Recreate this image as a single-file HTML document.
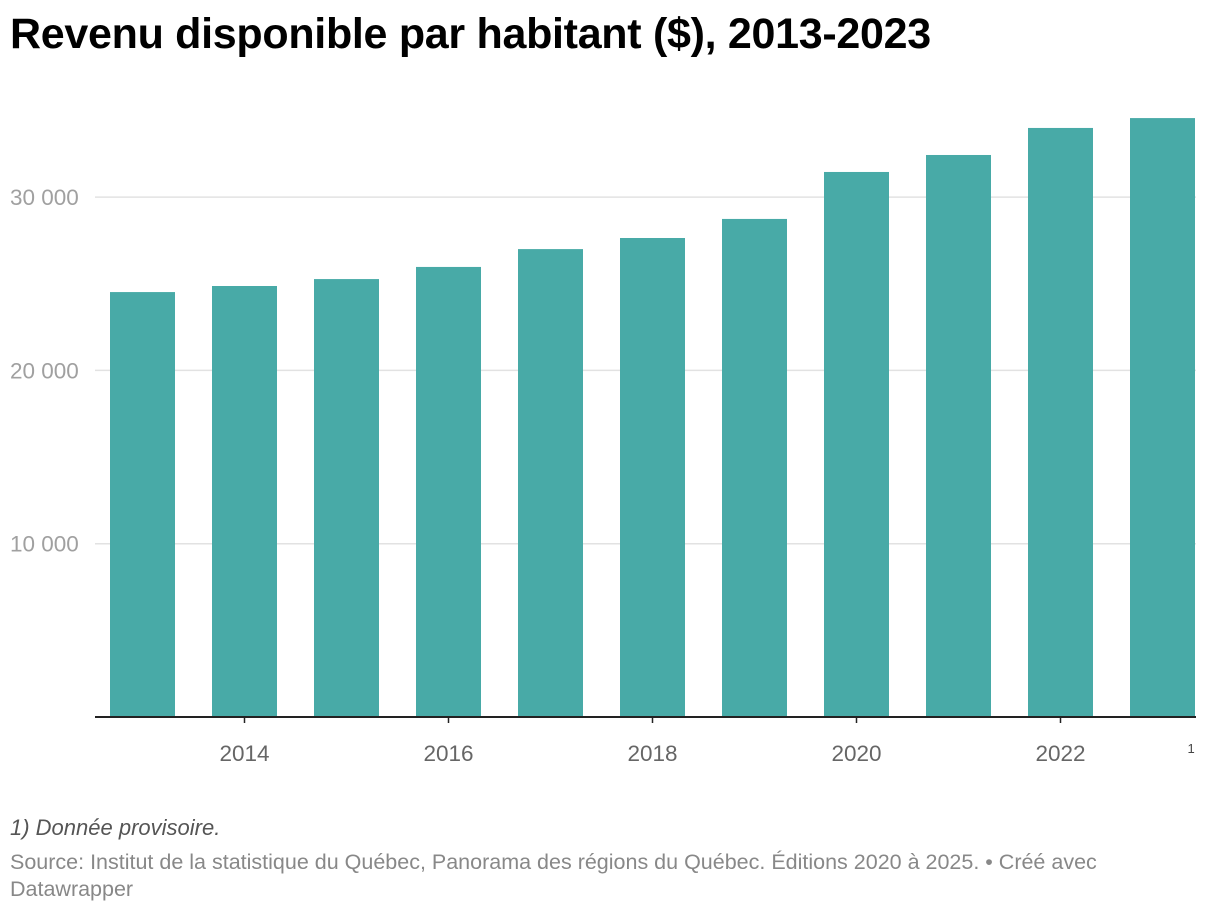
<!DOCTYPE html>
<html><head><meta charset="utf-8">
<style>
body{margin:0;background:#fff;width:1220px;height:914px;overflow:hidden;font-family:"Liberation Sans",sans-serif}
#title{position:absolute;left:10px;top:10px;font-size:43px;font-weight:bold;color:#000;letter-spacing:-0.3px}
#note{position:absolute;left:10px;top:815px;font-size:22px;font-style:italic;color:#555}
#source{position:absolute;left:10px;top:849px;font-size:21.5px;color:#888;line-height:27px;width:1125px}
svg{position:absolute;left:0;top:0}
</style></head><body>
<div id="title">Revenu disponible par habitant ($), 2013-2023</div>
<svg id="chart" width="1220" height="914"></svg>
<div id="note">1) Donnée provisoire.</div>
<div id="source">Source: Institut de la statistique du Québec, Panorama des régions du Québec. Éditions 2020 à 2025. • Créé avec Datawrapper</div>
<script>
const years=[2013,2014,2015,2016,2017,2018,2019,2020,2021,2022,2023];
const values=[24520,24870,25270,25970,27000,27640,28740,31450,32430,33990,34560];
const yTicks=[10000,20000,30000];
const yTickLabels=["10 000","20 000","30 000"];
const xTickYears=[2014,2016,2018,2020,2022];
const svg=document.getElementById('chart');
const NS='http://www.w3.org/2000/svg';
const x0=91.5,band=102,barW=65,yBase=717,pxPer=173.3/10000;
function xC(i){return x0+band*(i+0.5);}
function yS(v){return yBase-v*pxPer;}
function el(t,a){const e=document.createElementNS(NS,t);for(const k in a)e.setAttribute(k,a[k]);svg.appendChild(e);return e;}
yTicks.forEach((v,i)=>{
 const g=el('line',{x1:95,x2:1196,y1:yS(v),y2:yS(v),stroke:'#e2e2e2','stroke-width':1.5});
 
 
 const t=el('text',{x:10,y:yS(v)+8,'font-size':22.5,fill:'#a0a0a0','font-family':'Liberation Sans, sans-serif'});
 t.textContent=yTickLabels[i];
 
 
});
values.forEach((v,i)=>{
 const r=el('rect',{x:xC(i)-barW/2,y:yS(v),width:barW,height:yBase-yS(v),fill:'#48aaa7'});
 
 
});
const ax=el('line',{x1:95,x2:1196,y1:yBase,y2:yBase,stroke:'#222','stroke-width':2});


xTickYears.forEach(yr=>{
 const i=years.indexOf(yr);
 const tk=el('line',{x1:xC(i),x2:xC(i),y1:yBase,y2:yBase+6,stroke:'#222','stroke-width':1.5});
 
 
 const t=el('text',{x:xC(i),y:761,'font-size':22.5,fill:'#666','text-anchor':'middle','font-family':'Liberation Sans, sans-serif'});
 t.textContent=yr;
 
 
});
const sup=el('text',{x:xC(10)+25,y:753,'font-size':13,fill:'#444','font-family':'Liberation Sans, sans-serif'});
sup.textContent='1';


</script>
</body></html>
